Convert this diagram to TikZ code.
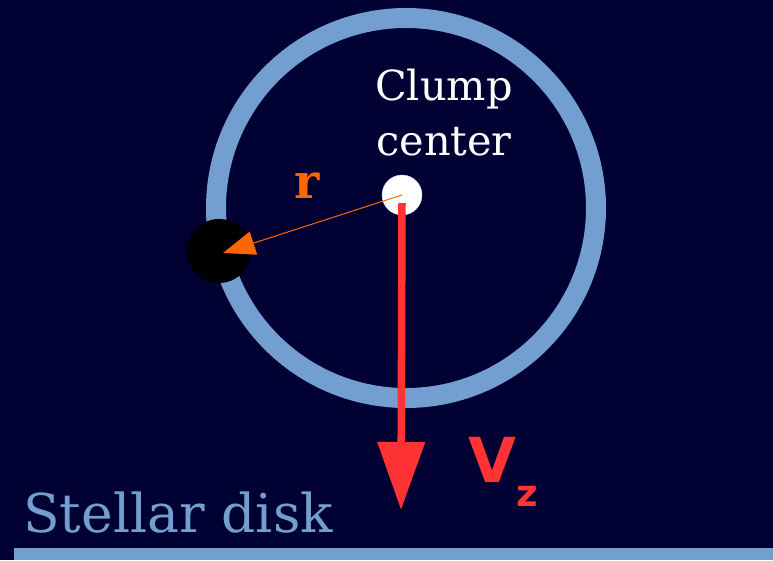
\documentclass[tikz,border=0pt]{standalone}
\usepackage{fontspec}
\usetikzlibrary{arrows.meta}
\newfontfamily\dvserif{DejaVu Serif}
\newfontfamily\dvsans{DejaVu Sans}
\definecolor{nightsky}{HTML}{000033}
\definecolor{diskblue}{HTML}{729FCF}
\definecolor{vzred}{HTML}{FF3333}
\definecolor{rorange}{HTML}{FF6600}

\begin{document}
\begin{tikzpicture}[x=1pt, y=-1pt,
	ring/.style={draw=diskblue, line width=20pt},
	dot/.style={shape=circle, inner sep=0pt, minimum size=#1},
	rarrow/.style={draw=rorange, line width=1pt, -{Triangle[length=32pt, width=24pt]}},
	vzarrow/.style={draw=vzred, line width=7.5pt, -{Triangle[length=68pt, width=46pt]}},
	lbl/.style={inner sep=0pt}]
	% Background, ring and disk:
	\fill[nightsky] (0,0) rectangle (773,560);
	\useasboundingbox (0,0) rectangle (773,560);
	\draw[ring] (406,208) circle[radius=190pt];
	\fill[diskblue] (14,548) rectangle (773,560);
	% Clump center and the black body:
	\node[dot=40pt, fill=white, draw=diskblue!40!white, thin] (ctr) at (402,195){};
	\node[dot=64pt, fill=black] (body) at (219,251){};
	\coordinate (vtip) at (401,510);
	\draw[rarrow] (ctr.center) -- ([xshift=4pt, yshift=-2pt]body.center);
	\draw[vzarrow] ([yshift=-8pt]ctr.center) -- (vtip);
	% Labels:
	\node[lbl, anchor=north, align=center, text=white, font=\dvserif\fontsize{41.5}{55}\selectfont] (clab) at (444,69){Clump\\center};
	\node[lbl, anchor=base, text=rorange, font=\dvserif\bfseries\fontsize{48}{48}\selectfont] (rlab) at (307,198){r};
	\node[lbl, anchor=base west, text=vzred, font=\dvsans\bfseries\fontsize{62}{62}\selectfont] (vlab) at (468,482){V\raisebox{-24pt}{\fontsize{37}{37}\selectfont z}};
	\node[lbl, anchor=base west, text=diskblue, font=\dvserif\fontsize{53.5}{53.5}\selectfont] (dlab) at (23,532){Stellar disk};
\end{tikzpicture}
\end{document}
